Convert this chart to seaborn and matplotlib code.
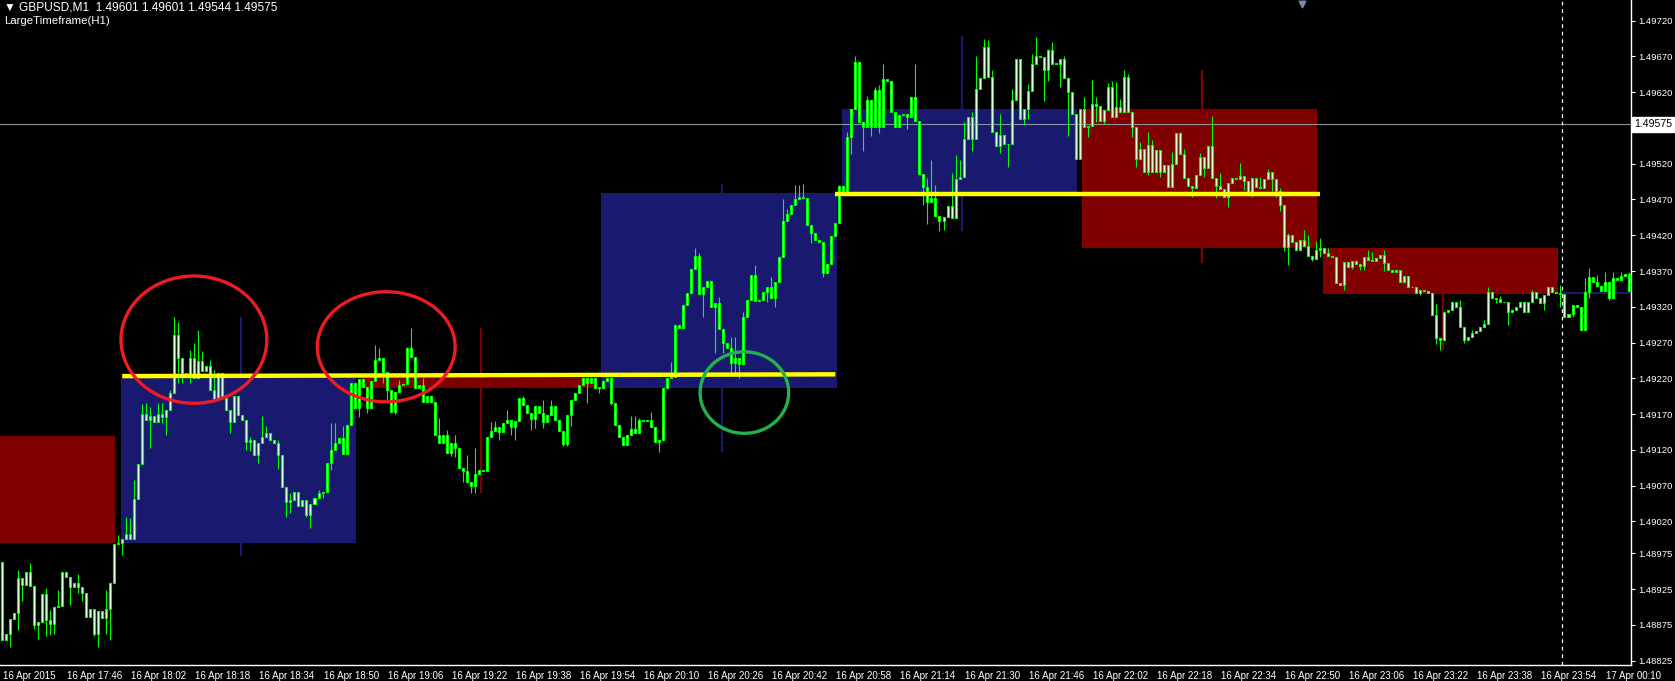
import numpy as np
import pandas as pd
import matplotlib
matplotlib.use("Agg")
import matplotlib.pyplot as plt
import matplotlib.transforms as mtransforms
from matplotlib.patches import Ellipse, Rectangle
import seaborn as sns

# ==========================================
# 1. DATA (prices in pips above 1.48800, bars indexed in minutes from 16 Apr 17:30)
# ==========================================
BASE = 1.48800
PIP = 0.0001

first_open = 16.3
closes = [
    5.4, 6.3, 8.4, 9.2, 14.1, 13.1, 14.9, 13.0, 7.5, 7.9,
    11.8, 8.2, 7.6, 10.0, 10.2, 14.9, 14.2, 12.8, 13.4, 12.8,
    11.9, 8.6, 9.7, 6.2, 9.4, 8.5, 9.8, 13.4, 18.8, 19.0,
    19.5, 20.2, 19.5, 25.1, 30.0, 37.0, 36.1, 36.7, 35.9, 37.0,
    36.6, 37.5, 40.0, 48.0, 44.8, 42.8, 42.4, 44.8, 42.0, 44.4,
    43.0, 43.7, 40.4, 39.1, 42.7, 39.2, 37.6, 35.9, 39.5, 36.9,
    36.1, 33.1, 33.3, 31.3, 33.0, 33.8, 34.4, 33.4, 33.0, 31.3,
    26.8, 24.7, 25.0, 26.1, 24.2, 25.0, 22.9, 24.4, 25.3, 26.0,
    26.1, 30.2, 31.9, 33.0, 33.7, 31.4, 35.4, 41.3, 37.9, 41.9,
    40.8, 37.9, 41.6, 44.5, 44.9, 42.9, 40.4, 37.3, 40.1, 41.0,
    41.2, 46.2, 45.0, 40.7, 41.0, 38.7, 39.5, 38.7, 34.0, 32.9,
    34.1, 31.6, 32.9, 32.2, 29.5, 29.0, 27.5, 27.0, 28.6, 29.2,
    29.0, 33.8, 34.6, 35.2, 34.5, 35.7, 36.2, 35.2, 36.0, 39.2,
    38.3, 37.1, 36.3, 38.1, 37.2, 35.9, 36.8, 38.1, 36.1, 34.6,
    32.8, 36.9, 39.0, 39.9, 41.1, 42.0, 41.3, 42.0, 40.6, 40.7,
    41.6, 42.0, 38.6, 35.4, 33.8, 32.7, 34.0, 34.9, 34.3, 36.2,
    36.0, 36.1, 35.2, 33.1, 33.3, 40.6, 42.1, 42.2, 49.5, 49.0,
    52.2, 53.9, 57.3, 59.1, 53.8, 54.7, 55.6, 52.0, 52.5, 48.9,
    46.9, 46.2, 44.1, 44.8, 44.0, 50.5, 52.9, 56.5, 52.8, 52.9,
    54.0, 54.8, 53.2, 55.5, 58.9, 64.0, 65.0, 66.2, 67.0, 67.4,
    67.2, 63.4, 62.3, 61.4, 61.0, 56.7, 58.0, 61.9, 63.7, 68.9,
    68.1, 75.7, 79.6, 86.2, 77.9, 77.1, 80.9, 77.1, 82.3, 77.2,
    83.8, 83.6, 79.2, 77.2, 78.8, 79.0, 78.6, 81.3, 78.0, 70.6,
    68.8, 66.6, 67.2, 64.7, 64.0, 64.6, 66.1, 64.4, 69.9, 70.2,
    75.5, 78.6, 75.5, 82.4, 84.0, 88.3, 84.2, 76.4, 74.5, 76.0,
    74.8, 74.7, 80.9, 86.6, 78.3, 79.7, 82.2, 86.0, 87.1, 86.9,
    85.1, 87.9, 85.9, 86.0, 86.7, 84.0, 82.1, 79.0, 72.7, 79.6,
    77.1, 77.3, 80.3, 80.1, 78.0, 79.5, 82.7, 78.5, 79.9, 79.2,
    84.1, 79.2, 77.1, 72.6, 74.0, 70.8, 74.6, 70.8, 73.9, 70.9,
    71.8, 68.7, 72.0, 76.3, 73.3, 70.0, 68.9, 68.6, 70.4, 72.9,
    71.4, 74.5, 70.0, 68.9, 68.4, 67.4, 69.3, 70.0, 69.8, 70.3,
    69.6, 68.1, 70.0, 68.8, 68.6, 69.9, 70.8, 69.9, 68.2, 66.2,
    60.3, 62.0, 61.1, 59.9, 61.3, 60.5, 59.1, 58.7, 60.0, 60.2,
    59.5, 59.1, 59.0, 55.3, 55.0, 58.2, 57.5, 58.4, 58.0, 57.7,
    58.9, 58.6, 58.4, 58.8, 59.2, 58.1, 57.1, 56.9, 57.1, 55.5,
    56.3, 54.7, 54.8, 53.9, 54.4, 54.2, 53.9, 50.8, 47.6, 47.4,
    51.3, 51.5, 52.6, 52.0, 49.2, 47.4, 47.8, 48.3, 48.6, 49.1,
    49.6, 54.1, 53.2, 53.1, 52.7, 52.6, 51.3, 51.5, 52.0, 52.6,
    51.3, 52.7, 54.1, 53.2, 52.5, 53.6, 54.7, 54.1, 53.9, 53.8,
    50.6, 51.0, 52.2, 52.0, 48.8, 54.1, 56.1, 55.5, 54.9, 54.2,
    55.5, 53.2, 56.0, 55.7, 56.3, 56.6, 54.2, 56.7,
]

# wick extremes that stick out of the bodies (bar index -> pips)
highs = {
    4: 15.2, 7: 16.2, 11: 12.6, 12: 9.6, 14: 12.4, 19: 14.6, 26: 12.4, 29: 20.1,
    31: 22.6, 32: 22.4, 33: 27.8, 35: 38.4, 36: 38.5, 37: 38.0, 39: 38.5, 40: 38.5,
    42: 40.4, 43: 50.5, 44: 49.8, 47: 46.0, 48: 47.0, 49: 48.8, 50: 45.8, 52: 44.5,
    53: 43.1, 62: 33.8, 65: 36.7, 66: 35.3, 69: 33.4, 72: 25.9, 79: 26.4, 82: 35.8,
    83: 35.8, 85: 35.3, 93: 46.7, 94: 46.2, 99: 41.8, 101: 46.4, 102: 49.0,
    105: 42.0, 109: 36.4, 111: 34.8, 113: 34.1, 116: 31.2, 118: 32.2, 122: 35.9,
    123: 36.0, 126: 37.6, 130: 39.5, 135: 39.0, 137: 39.0, 157: 36.7, 158: 36.7,
    159: 36.4, 162: 37.3, 167: 44.3, 173: 60.2, 174: 59.5, 177: 54.6, 179: 53.3,
    182: 47.8, 183: 47.8, 185: 51.2, 188: 57.9, 192: 56.2, 195: 67.0, 196: 65.7,
    198: 69.0, 199: 69.0, 200: 69.2, 209: 69.0, 211: 76.5, 213: 87.1, 216: 81.5,
    218: 82.8, 219: 83.0, 220: 85.9, 228: 85.9, 231: 70.0, 232: 72.5, 233: 69.0,
    237: 70.7, 238: 73.2, 239: 72.5, 240: 77.8, 242: 79.3, 243: 87.1, 245: 89.5,
    246: 89.3, 247: 85.1, 249: 79.0, 252: 82.5, 253: 86.7, 256: 83.1, 257: 87.3,
    258: 89.7, 261: 88.0, 262: 89.0, 265: 87.1, 270: 81.4, 272: 83.7, 273: 81.4,
    276: 83.3, 277: 83.6, 278: 83.5, 279: 81.1, 280: 85.1, 281: 84.5, 284: 75.1,
    286: 76.5, 287: 75.3, 292: 73.7, 293: 76.3, 294: 76.5, 295: 74.0, 299: 73.5,
    302: 78.7, 304: 70.7, 309: 72.1, 314: 70.1, 316: 71.2, 319: 68.6, 321: 62.3,
    322: 61.9, 325: 62.7, 326: 62.0, 328: 61.2, 329: 61.6, 331: 60.2, 341: 59.9,
    342: 59.7, 345: 59.9, 358: 52.4, 364: 53.0, 367: 48.8, 370: 50.2, 371: 54.7,
    374: 53.5, 382: 54.3, 387: 54.8, 389: 55.0, 395: 56.0, 396: 57.4, 398: 56.4,
    400: 56.8, 402: 56.8, 404: 56.9, 406: 56.8,
}
lows = {
    2: 4.4, 4: 6.8, 5: 10.8, 8: 7.0, 9: 5.6, 11: 5.9, 12: 6.1, 13: 6.3, 17: 10.3,
    19: 11.9, 20: 10.8, 23: 5.9, 24: 4.4, 26: 6.3, 27: 5.4, 30: 17.3, 37: 32.2,
    40: 35.7, 41: 34.1, 44: 41.3, 45: 41.3, 47: 41.3, 57: 34.4, 61: 31.9, 62: 31.8,
    64: 30.1, 69: 29.3, 71: 22.6, 72: 23.1, 76: 22.6, 77: 21.1, 80: 25.2, 82: 29.2,
    89: 36.6, 91: 37.1, 95: 41.3, 96: 39.0, 98: 37.0, 112: 31.1, 113: 31.0,
    114: 30.1, 115: 27.5, 117: 26.0, 118: 25.9, 124: 33.3, 127: 34.0, 128: 33.4,
    132: 34.8, 133: 35.1, 135: 35.0, 139: 34.7, 140: 32.5, 141: 32.5, 142: 35.3,
    146: 38.6, 149: 39.9, 152: 38.3, 164: 31.7, 175: 50.6, 178: 45.5, 180: 45.5,
    182: 42.8, 183: 42.8, 184: 42.0, 191: 52.7, 193: 52.0, 202: 60.9, 205: 56.1,
    209: 66.5, 212: 73.4, 215: 73.8, 217: 75.9, 219: 76.3, 226: 76.9, 230: 66.2,
    231: 63.6, 234: 62.6, 235: 62.8, 242: 73.8, 249: 73.5, 251: 71.6, 255: 77.4,
    256: 78.3, 260: 80.8, 261: 83.6, 264: 82.8, 266: 75.9, 271: 75.8, 273: 77.9,
    275: 77.6, 282: 75.8, 283: 71.6, 286: 70.4, 289: 70.2, 297: 67.4, 300: 70.2,
    303: 67.2, 306: 65.9, 310: 68.3, 312: 67.3, 317: 68.2, 318: 67.4, 319: 65.4,
    320: 59.8, 321: 57.9, 327: 58.4, 329: 58.9, 335: 54.3, 337: 57.3, 339: 57.2,
    340: 57.1, 345: 57.0, 354: 53.6, 358: 46.8, 359: 45.9, 360: 49.1, 365: 46.9,
    373: 52.5, 376: 49.4, 385: 51.5, 389: 52.0, 392: 50.6, 396: 53.2, 401: 52.9,
}

# LargeTimeframe(H1) candles: start bar of each hour, OHLC in pips
h1_start = [-30, 30, 90, 150, 210, 270, 330, 390]
h1_open = [33.9, 19.0, 42.1, 40.7, 67.95, 79.65, 60.2, 53.8]
h1_high = [33.9, 50.5, 49.0, 69.2, 89.8, 85.1, 60.2, 54.0]
h1_low = [19.0, 17.2, 25.9, 31.7, 62.6, 58.1, 45.95, 53.8]
h1_close = [19.0, 42.1, 40.7, 67.95, 79.65, 60.2, 53.8, 54.0]

# yellow levels: (start bar, end bar, start pips, end pips)
yellow_levels = [(30, 208, 42.3, 42.55), (208, 329, 67.8, 67.8)]

# hand-drawn marks: (centre bar, centre pips, width in bars, height in pips, colour)
marks = [
    (47.9, 47.4, 36.4, 17.8, "#ed1c24"),
    (95.9, 46.4, 34.4, 15.4, "#ed1c24"),
    (185.3, 40.0, 22.1, 11.4, "#22b14c"),
]

bid = 77.5
day_sep = 389.5

xtick_bars = list(range(0, 401, 16))
xtick_labels = [
    "16 Apr 2015", "16 Apr 17:46", "16 Apr 18:02", "16 Apr 18:18", "16 Apr 18:34",
    "16 Apr 18:50", "16 Apr 19:06", "16 Apr 19:22", "16 Apr 19:38", "16 Apr 19:54",
    "16 Apr 20:10", "16 Apr 20:26", "16 Apr 20:42", "16 Apr 20:58", "16 Apr 21:14",
    "16 Apr 21:30", "16 Apr 21:46", "16 Apr 22:02", "16 Apr 22:18", "16 Apr 22:34",
    "16 Apr 22:50", "16 Apr 23:06", "16 Apr 23:22", "16 Apr 23:38", "16 Apr 23:54",
    "17 Apr 00:10",
]
ytick_labels = [
    "1.49720", "1.49670", "1.49620", "1.49520", "1.49470", "1.49420", "1.49370",
    "1.49320", "1.49270", "1.49220", "1.49170", "1.49120", "1.49070", "1.49020",
    "1.48975", "1.48925", "1.48875", "1.48825",
]

# ==========================================
# 2. STYLE
# ==========================================
sns.set_theme(style="dark", rc={
    "axes.facecolor": "black", "figure.facecolor": "black",
    "text.color": "white", "xtick.color": "white", "ytick.color": "white",
    "axes.edgecolor": "white", "grid.color": "black",
})
plt.rcParams["font.family"] = ["Liberation Sans", "DejaVu Sans"]

W, H = 1675, 681
fig = plt.figure(figsize=(W / 100, H / 100), dpi=100)
ax = fig.add_axes([0, 16 / H, 1631 / W, 665 / H])
ax.set_facecolor("black")

def px(p):
    return BASE + np.asarray(p) * PIP

# ==========================================
# 3. H1 BOXES
# ==========================================
for s, o, h, l, c in zip(h1_start, h1_open, h1_high, h1_low, h1_close):
    col = "#191970" if c >= o else "#800000"
    lo_b, hi_b = min(o, c), max(o, c)
    ax.add_patch(Rectangle((s - 0.4, px(lo_b)), 58.7, max(hi_b - lo_b, 0.15) * PIP,
                           facecolor=col, edgecolor="none", zorder=1))
    ax.vlines(s + 29.6, px(l), px(h), color=col, lw=1.6, zorder=1.5)

# ==========================================
# 4. M1 CANDLES
# ==========================================
c = np.array(closes, dtype=float)
o = np.r_[first_open, c[:-1]]
idx = np.arange(len(c))
hi = np.maximum(o, c)
lo = np.minimum(o, c)
for k, v in highs.items():
    hi[k] = max(hi[k], v)
for k, v in lows.items():
    lo[k] = min(lo[k], v)

bars = pd.DataFrame({"bar": idx, "open": o, "close": c, "high": hi, "low": lo})
ax.vlines(bars["bar"], px(bars["low"]), px(bars["high"]), color="#00ff00", lw=0.8, zorder=3)
body_lo = np.minimum(bars["open"], bars["close"])
body_h = np.maximum(np.abs(bars["close"] - bars["open"]), 0.12)
ax.bar(bars["bar"], body_h * PIP, bottom=px(body_lo), width=0.5,
       facecolor="#f4fff4", edgecolor="#00ff00", linewidth=0.8, zorder=4)

# ==========================================
# 5. LEVELS, LINES AND MARKS
# ==========================================
for x0, x1, y0, y1 in yellow_levels:
    seg = pd.DataFrame({"bar": [x0, x1], "price": px([y0, y1])})
    sns.lineplot(data=seg, x="bar", y="price", color="#ffff00", lw=3.2, ax=ax,
                 zorder=5, solid_capstyle="butt")

bid_df = pd.DataFrame({"bar": [-1, 420], "price": px([bid, bid])})
sns.lineplot(data=bid_df, x="bar", y="price", color="#8f939c", lw=0.8, ax=ax, zorder=2.5)

ax.axvline(day_sep, color="white", lw=0.9, ls=(0, (3, 3)), zorder=2.5)

for cx, cy, w, h, col in marks:
    ax.add_patch(Ellipse((cx, px(cy)), w, h * PIP, facecolor="none",
                         edgecolor=col, lw=2.4, zorder=6))

# ==========================================
# 6. AXES
# ==========================================
ax.set_xlim(-0.5, 406.6)
ax.set_ylim(px(1.9), px(94.9))
ax.set_xlabel("")
ax.set_ylabel("")
ax.grid(False)
for side in ["top", "left"]:
    ax.spines[side].set_visible(False)
for side in ["right", "bottom"]:
    ax.spines[side].set_color("white")
    ax.spines[side].set_linewidth(1.0)

ax.set_xticks(xtick_bars)
ax.set_xticklabels(xtick_labels, fontsize=7, ha="left")
ax.yaxis.tick_right()
ax.set_yticks([float(t) for t in ytick_labels])
ax.set_yticklabels(ytick_labels, fontsize=6.8)
ax.tick_params(axis="x", direction="out", length=3, width=0.8, pad=1.5, colors="white")
ax.tick_params(axis="y", direction="out", length=3, width=0.8, pad=2, colors="white")
for lab in ax.get_xticklabels():
    lab.set_transform(lab.get_transform() + mtransforms.ScaledTranslation(1 / 100, 0, fig.dpi_scale_trans))

# current price tag on the axis
ax.annotate(f"{BASE + bid * PIP:.5f}", xy=(1.0, px(bid)), xycoords=("axes fraction", "data"),
            xytext=(3, 0), textcoords="offset pixels", va="center", ha="left",
            fontsize=7.6, color="black",
            bbox=dict(boxstyle="square,pad=0.2", facecolor="white", edgecolor="white"),
            zorder=10, annotation_clip=False)

# chart shift marker at the top
ax.scatter([324.5], [px(94.4)], marker="v", s=22, color="#7a8ca6", zorder=7, clip_on=False)

# header texts
fig.text(4 / W, 1 - 8 / H, "\u25bc GBPUSD,M1  1.49601 1.49601 1.49544 1.49575",
         fontsize=8.6, color="white", va="center", ha="left",
         family=["Liberation Sans", "DejaVu Sans"])
fig.text(4 / W, 1 - 20.5 / H, "LargeTimeframe(H1)", fontsize=8.2, color="white",
         va="center", ha="left")

fig.savefig("out.png", dpi=100, facecolor="black")
